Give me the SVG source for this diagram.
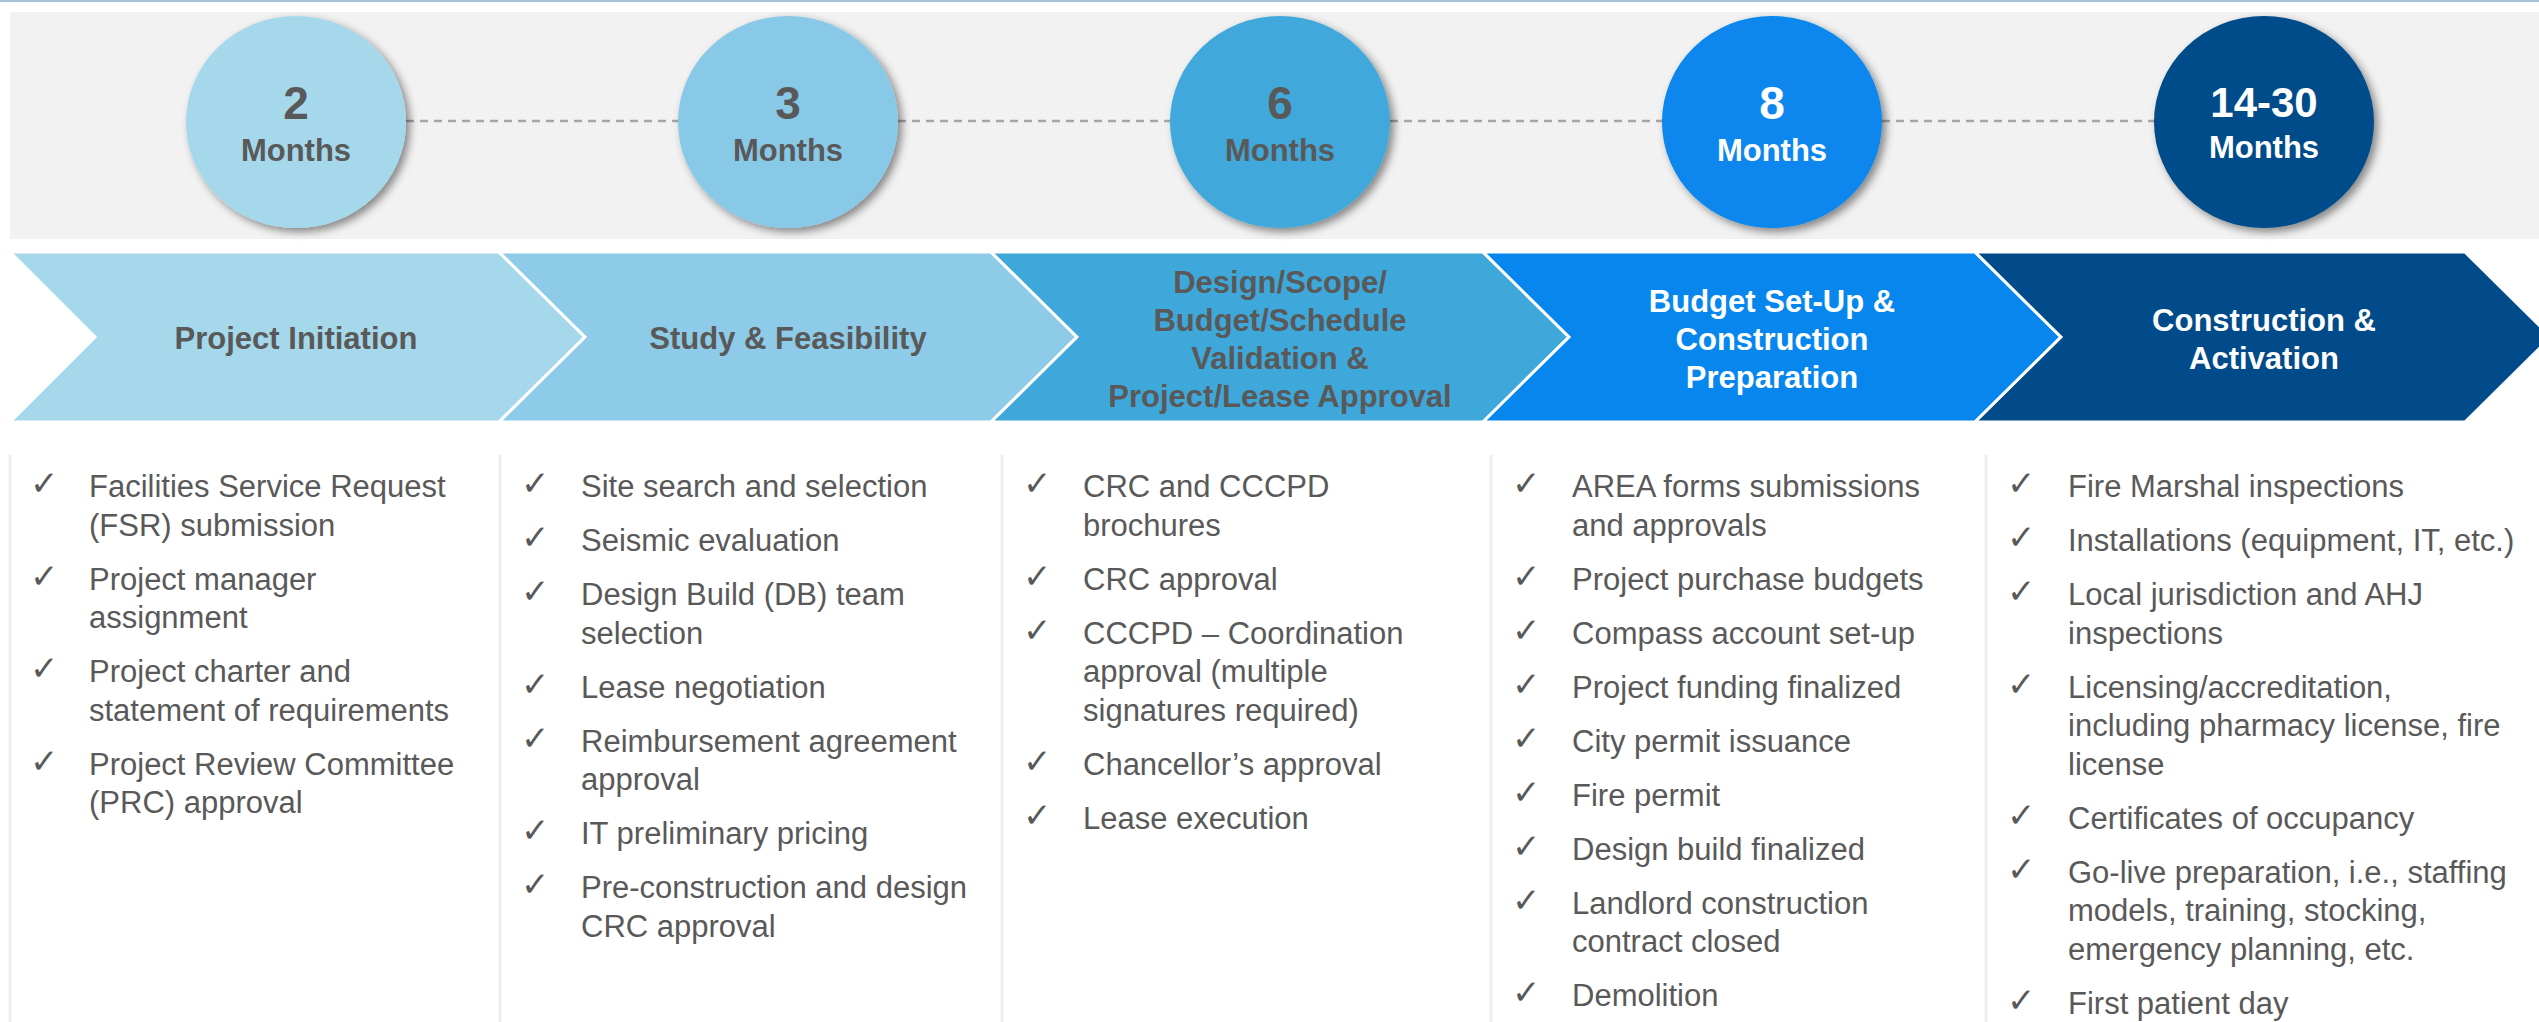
<svg xmlns="http://www.w3.org/2000/svg" width="2539" height="1022" viewBox="0 0 2539 1022">
<style>
.num{font-family:"Liberation Sans",Arial,sans-serif;font-weight:bold;font-size:46px;text-anchor:middle}
.mon{font-family:"Liberation Sans",Arial,sans-serif;font-weight:bold;font-size:31px;text-anchor:middle}
.lbl{font-family:"Liberation Sans",Arial,sans-serif;font-weight:bold;font-size:31px;text-anchor:middle}
.item{font-family:"Liberation Sans",Arial,sans-serif;font-size:31px;fill:#595959}
.chk{font-family:"DejaVu Sans",sans-serif;font-size:34px;fill:#595959}
.dk{fill:#595959}
.wt{fill:#FFFFFF}
.chev{stroke:#FFFFFF;stroke-width:3;stroke-linejoin:miter}
.sep{stroke:#EEEEEE;stroke-width:3}
.dash{stroke:#A6A6A6;stroke-width:2.5;stroke-dasharray:8 6;fill:none}
</style>
<defs>
<filter id="sh" x="-20%" y="-20%" width="150%" height="150%">
<feDropShadow dx="4" dy="4" stdDeviation="4" flood-color="#000000" flood-opacity="0.45"/>
</filter>
</defs>
<rect x="0" y="0" width="2539" height="1022" fill="#FFFFFF"/>
<rect x="0" y="0" width="2539" height="2" fill="#A9C3DA"/>
<rect id="timeline-band" x="10" y="12" width="2529" height="227" fill="#F2F2F2"/>

<g id="connectors">
<line class="dash" x1="406" y1="121" x2="678" y2="121"/>
<line class="dash" x1="898" y1="121" x2="1170" y2="121"/>
<line class="dash" x1="1390" y1="121" x2="1662" y2="121"/>
<line class="dash" x1="1882" y1="121" x2="2154" y2="121"/>
</g>

<g id="circle-2-months">
<ellipse cx="296" cy="122" rx="110" ry="106" fill="#A6D8EC" filter="url(#sh)"/>
<text class="num dk" x="296" y="119">2</text>
<text class="mon dk" x="296" y="161">Months</text>
</g>
<g id="circle-3-months">
<ellipse cx="788" cy="122" rx="110" ry="106" fill="#89C9E8" filter="url(#sh)"/>
<text class="num dk" x="788" y="119">3</text>
<text class="mon dk" x="788" y="161">Months</text>
</g>
<g id="circle-6-months">
<ellipse cx="1280" cy="122" rx="110" ry="106" fill="#3FA8DA" filter="url(#sh)"/>
<text class="num dk" x="1280" y="119">6</text>
<text class="mon dk" x="1280" y="161">Months</text>
</g>
<g id="circle-8-months">
<ellipse cx="1772" cy="122" rx="110" ry="106" fill="#0787EE" filter="url(#sh)"/>
<text class="num wt" x="1772" y="119">8</text>
<text class="mon wt" x="1772" y="161">Months</text>
</g>
<g id="circle-14-30-months">
<ellipse cx="2264" cy="122" rx="110" ry="106" fill="#014B8A" filter="url(#sh)"/>
<text class="num wt" x="2264" y="117" style="font-size:42px">14-30</text>
<text class="mon wt" x="2264" y="158">Months</text>
</g>

<g id="phase-project-initiation">
<polygon class="chev" points="10,252 499,252 585,337 499,422 10,422 95,337" fill="#A6D8EC"/>
<text class="lbl dk" x="296" y="349">Project Initiation</text>
</g>
<g id="phase-study-feasibility">
<polygon class="chev" points="499,252 991,252 1077,337 991,422 499,422 585,337" fill="#8DCBE8"/>
<text class="lbl dk" x="788" y="349">Study &amp; Feasibility</text>
</g>
<g id="phase-design-validation">
<polygon class="chev" points="991,252 1483,252 1569,337 1483,422 991,422 1077,337" fill="#3FA8DA"/>
<text class="lbl dk" x="1280" y="293">Design/Scope/</text>
<text class="lbl dk" x="1280" y="331">Budget/Schedule</text>
<text class="lbl dk" x="1280" y="369">Validation &amp;</text>
<text class="lbl dk" x="1280" y="407">Project/Lease Approval</text>
</g>
<g id="phase-budget-setup">
<polygon class="chev" points="1483,252 1975,252 2061,337 1975,422 1483,422 1569,337" fill="#0787EE"/>
<text class="lbl wt" x="1772" y="312">Budget Set-Up &amp;</text>
<text class="lbl wt" x="1772" y="350">Construction</text>
<text class="lbl wt" x="1772" y="388">Preparation</text>
</g>
<g id="phase-construction-activation">
<polygon class="chev" points="1975,252 2465,252 2551,337 2465,422 1975,422 2061,337" fill="#014B8A"/>
<text class="lbl wt" x="2264" y="331">Construction &amp;</text>
<text class="lbl wt" x="2264" y="369">Activation</text>
</g>

<g id="separators">
<line class="sep" x1="10" y1="455" x2="10" y2="1022"/>
<line class="sep" x1="500" y1="455" x2="500" y2="1022"/>
<line class="sep" x1="1002" y1="455" x2="1002" y2="1022"/>
<line class="sep" x1="1491" y1="455" x2="1491" y2="1022"/>
<line class="sep" x1="1986" y1="455" x2="1986" y2="1022"/>
</g>

<g id="list-project-initiation">
<text class="chk" x="30" y="495">✓</text>
<text class="item" x="89" y="497">Facilities Service Request</text>
<text class="item" x="89" y="535.5">(FSR) submission</text>
<text class="chk" x="30" y="587.5">✓</text>
<text class="item" x="89" y="589.5">Project manager</text>
<text class="item" x="89" y="628">assignment</text>
<text class="chk" x="30" y="680">✓</text>
<text class="item" x="89" y="682">Project charter and</text>
<text class="item" x="89" y="720.5">statement of requirements</text>
<text class="chk" x="30" y="772.5">✓</text>
<text class="item" x="89" y="774.5">Project Review Committee</text>
<text class="item" x="89" y="813">(PRC) approval</text>
</g>

<g id="list-study-feasibility">
<text class="chk" x="521" y="495">✓</text>
<text class="item" x="581" y="497">Site search and selection</text>
<text class="chk" x="521" y="549">✓</text>
<text class="item" x="581" y="551">Seismic evaluation</text>
<text class="chk" x="521" y="603">✓</text>
<text class="item" x="581" y="605">Design Build (DB) team</text>
<text class="item" x="581" y="643.5">selection</text>
<text class="chk" x="521" y="695.5">✓</text>
<text class="item" x="581" y="697.5">Lease negotiation</text>
<text class="chk" x="521" y="749.5">✓</text>
<text class="item" x="581" y="751.5">Reimbursement agreement</text>
<text class="item" x="581" y="790">approval</text>
<text class="chk" x="521" y="842">✓</text>
<text class="item" x="581" y="844">IT preliminary pricing</text>
<text class="chk" x="521" y="896">✓</text>
<text class="item" x="581" y="898">Pre-construction and design</text>
<text class="item" x="581" y="936.5">CRC approval</text>
</g>

<g id="list-design-validation">
<text class="chk" x="1023" y="495">✓</text>
<text class="item" x="1083" y="497">CRC and CCCPD</text>
<text class="item" x="1083" y="535.5">brochures</text>
<text class="chk" x="1023" y="587.5">✓</text>
<text class="item" x="1083" y="589.5">CRC approval</text>
<text class="chk" x="1023" y="641.5">✓</text>
<text class="item" x="1083" y="643.5">CCCPD – Coordination</text>
<text class="item" x="1083" y="682">approval (multiple</text>
<text class="item" x="1083" y="720.5">signatures required)</text>
<text class="chk" x="1023" y="772.5">✓</text>
<text class="item" x="1083" y="774.5">Chancellor’s approval</text>
<text class="chk" x="1023" y="826.5">✓</text>
<text class="item" x="1083" y="828.5">Lease execution</text>
</g>

<g id="list-budget-setup">
<text class="chk" x="1512" y="495">✓</text>
<text class="item" x="1572" y="497">AREA forms submissions</text>
<text class="item" x="1572" y="535.5">and approvals</text>
<text class="chk" x="1512" y="587.5">✓</text>
<text class="item" x="1572" y="589.5">Project purchase budgets</text>
<text class="chk" x="1512" y="641.5">✓</text>
<text class="item" x="1572" y="643.5">Compass account set-up</text>
<text class="chk" x="1512" y="695.5">✓</text>
<text class="item" x="1572" y="697.5">Project funding finalized</text>
<text class="chk" x="1512" y="749.5">✓</text>
<text class="item" x="1572" y="751.5">City permit issuance</text>
<text class="chk" x="1512" y="803.5">✓</text>
<text class="item" x="1572" y="805.5">Fire permit</text>
<text class="chk" x="1512" y="857.5">✓</text>
<text class="item" x="1572" y="859.5">Design build finalized</text>
<text class="chk" x="1512" y="911.5">✓</text>
<text class="item" x="1572" y="913.5">Landlord construction</text>
<text class="item" x="1572" y="952">contract closed</text>
<text class="chk" x="1512" y="1004">✓</text>
<text class="item" x="1572" y="1006">Demolition</text>
</g>

<g id="list-construction-activation">
<text class="chk" x="2007" y="495">✓</text>
<text class="item" x="2068" y="497">Fire Marshal inspections</text>
<text class="chk" x="2007" y="549">✓</text>
<text class="item" x="2068" y="551">Installations (equipment, IT, etc.)</text>
<text class="chk" x="2007" y="603">✓</text>
<text class="item" x="2068" y="605">Local jurisdiction and AHJ</text>
<text class="item" x="2068" y="643.5">inspections</text>
<text class="chk" x="2007" y="695.5">✓</text>
<text class="item" x="2068" y="697.5">Licensing/accreditation,</text>
<text class="item" x="2068" y="736">including pharmacy license, fire</text>
<text class="item" x="2068" y="774.5">license</text>
<text class="chk" x="2007" y="826.5">✓</text>
<text class="item" x="2068" y="828.5">Certificates of occupancy</text>
<text class="chk" x="2007" y="880.5">✓</text>
<text class="item" x="2068" y="882.5">Go-live preparation, i.e., staffing</text>
<text class="item" x="2068" y="921">models, training, stocking,</text>
<text class="item" x="2068" y="959.5">emergency planning, etc.</text>
<text class="chk" x="2007" y="1011.5">✓</text>
<text class="item" x="2068" y="1013.5">First patient day</text>
</g>
</svg>
